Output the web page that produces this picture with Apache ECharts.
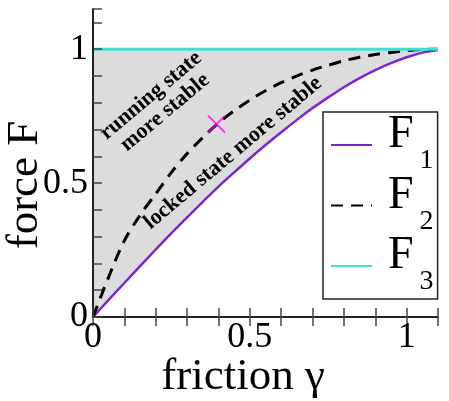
<!DOCTYPE html>
<html>
<head>
<meta charset="utf-8">
<script src="https://cdn.jsdelivr.net/npm/echarts@6/dist/echarts.min.js"></script>
<style>html,body{margin:0;padding:0;background:#fff}#c{width:449px;height:401px}</style>
</head>
<body>
<div id="c"></div>
<script>
// friction gamma
var gamma = [0, 0.05, 0.1, 0.15, 0.2, 0.25, 0.3, 0.35, 0.4, 0.45, 0.5, 0.55, 0.6, 0.65, 0.7, 0.75, 0.8, 0.85, 0.9, 0.95, 1.0, 1.05, 1.1];
// F1 (solid purple)
var f1 = [0, 0.064, 0.127, 0.19, 0.252, 0.313, 0.372, 0.43, 0.487, 0.54, 0.592, 0.642, 0.69, 0.736, 0.78, 0.82, 0.858, 0.892, 0.922, 0.948, 0.97, 0.987, 0.997];
// F2 (dashed black)
var f2 = [0, 0.15, 0.285, 0.38, 0.46, 0.54, 0.61, 0.67, 0.725, 0.77, 0.81, 0.845, 0.875, 0.90, 0.922, 0.94, 0.957, 0.97, 0.98, 0.988, 0.995, 0.999, 1.0];
// F3 (turquoise)
var f3 = [1, 1, 1, 1, 1, 1, 1, 1, 1, 1, 1, 1, 1, 1, 1, 1, 1, 1, 1, 1, 1, 1, 1];
// marked point
var markGamma = [0.394];
var markF = [0.72];
var tickLabels = ['0', '0.5', '1'];

function pairs(xs, ys) { return xs.map(function (x, i) { return [x, ys[i]]; }); }
function fmt(v) {
  for (var i = 0; i < tickLabels.length; i++) {
    if (Math.abs(v - parseFloat(tickLabels[i])) < 1e-9) return tickLabels[i];
  }
  return '';
}
var SERIF = 'Liberation Serif';
var chart = echarts.init(document.getElementById('c'), null, {renderer: 'canvas'});
var axisLine = {show: true, lineStyle: {color: '#222', width: 2}};
var tickStyle = {color: '#444', width: 1.5};
chart.setOption({
  animation: false,
  backgroundColor: '#fff',
  grid: {left: 93, right: 11, top: 9, bottom: 84},
  xAxis: [{
    type: 'value', min: 0, max: 1.1, interval: 0.1, position: 'bottom', z: 5,
    axisLine: axisLine, splitLine: {show: false},
    axisTick: {inside: true, length: 9, lineStyle: tickStyle},
    axisLabel: {formatter: fmt, fontFamily: SERIF, fontSize: 36, color: '#000', margin: 3}
  }, {
    type: 'value', min: 0, max: 1.1, interval: 0.1, position: 'top', z: 5,
    axisLine: axisLine, splitLine: {show: false},
    axisTick: {inside: true, length: 9, lineStyle: tickStyle},
    axisLabel: {show: false}
  }],
  yAxis: [{
    type: 'value', min: 0, max: 1.15, interval: 0.1, position: 'left', z: 5,
    axisLine: axisLine, splitLine: {show: false},
    axisTick: {inside: true, length: 9, lineStyle: tickStyle},
    axisLabel: {formatter: fmt, fontFamily: SERIF, fontSize: 36, color: '#000', margin: 5}
  }, {
    type: 'value', min: 0, max: 1.15, interval: 0.1, position: 'right', offset: 3, z: 5,
    axisLine: {show: false}, splitLine: {show: false},
    axisTick: {inside: false, length: 8, lineStyle: tickStyle},
    axisLabel: {show: false}
  }],
  legend: {
    orient: 'vertical', left: 323, top: 112,
    data: ['F1', 'F2', 'F3'],
    backgroundColor: '#fff', borderColor: '#222', borderWidth: 1.5,
    padding: [0, 4, 0, 7], itemGap: -5.5, itemWidth: 41, itemHeight: 14,
    itemStyle: {opacity: 0},
    formatter: function (name) { return '{f|F}{s|' + name.slice(1) + '}'; },
    textStyle: {
      padding: [0, 0, 0, 11],
      rich: {
        f: {fontFamily: SERIF, fontSize: 46, lineHeight: 30, color: '#000', padding: [0, 0, 20, 0]},
        s: {fontFamily: SERIF, fontSize: 28, lineHeight: 18, color: '#000', padding: [32, 0, 0, 6]}
      }
    }
  },
  series: [
    {name: 'shade', type: 'line', data: pairs(gamma, f3), symbol: 'none', z: 1,
     lineStyle: {width: 0, opacity: 0}, areaStyle: {color: '#dcdcdc', opacity: 1}, silent: true},
    {name: 'mask', type: 'line', data: pairs(gamma, f1), symbol: 'none', z: 1, smooth: 0.3,
     lineStyle: {width: 0, opacity: 0}, areaStyle: {color: '#fff', opacity: 1}, silent: true},
    {name: 'F1', type: 'line', data: pairs(gamma, f1), symbol: 'none', z: 2, smooth: 0.3,
     lineStyle: {color: '#7d26cd', width: 2.5}, itemStyle: {color: '#7d26cd'}},
    {name: 'F2', type: 'line', data: pairs(gamma, f2), symbol: 'none', z: 2, smooth: 0.3,
     lineStyle: {color: '#000', width: 3, type: [12, 8]}, itemStyle: {color: '#000'}},
    {name: 'F3', type: 'line', data: pairs(gamma, f3), symbol: 'none', z: 3,
     lineStyle: {color: '#40e0d0', width: 3}, itemStyle: {color: '#40e0d0'}},
    {name: 'mark', type: 'scatter', data: pairs(markGamma, markF), z: 4,
     symbol: 'path://M0,0L10,10M10,0L0,10', symbolSize: 17,
     itemStyle: {color: 'none', borderColor: '#ff00ff', borderWidth: 2}}
  ],
  graphic: [
    {type: 'text', z: 100, x: 243, y: 377, style: {text: 'friction γ', font: '45px "Liberation Serif"', fill: '#000', align: 'center', verticalAlign: 'middle'}},
    {type: 'text', z: 100, x: 25, y: 185, rotation: Math.PI / 2, style: {text: 'force F', font: '45px "Liberation Serif"', fill: '#000', align: 'center', verticalAlign: 'middle'}},
    {type: 'text', z: 100, x: 158, y: 104, rotation: 40 * Math.PI / 180, style: {text: 'running state\nmore stable', font: 'bold 22px "Liberation Serif"', lineHeight: 22, fill: '#000', align: 'center', verticalAlign: 'middle'}},
    {type: 'text', z: 100, x: 233, y: 153, rotation: 40 * Math.PI / 180, style: {text: 'locked state more stable', font: 'bold 22px "Liberation Serif"', fill: '#000', align: 'center', verticalAlign: 'middle'}}
  ]
});
</script>
</body>
</html>
